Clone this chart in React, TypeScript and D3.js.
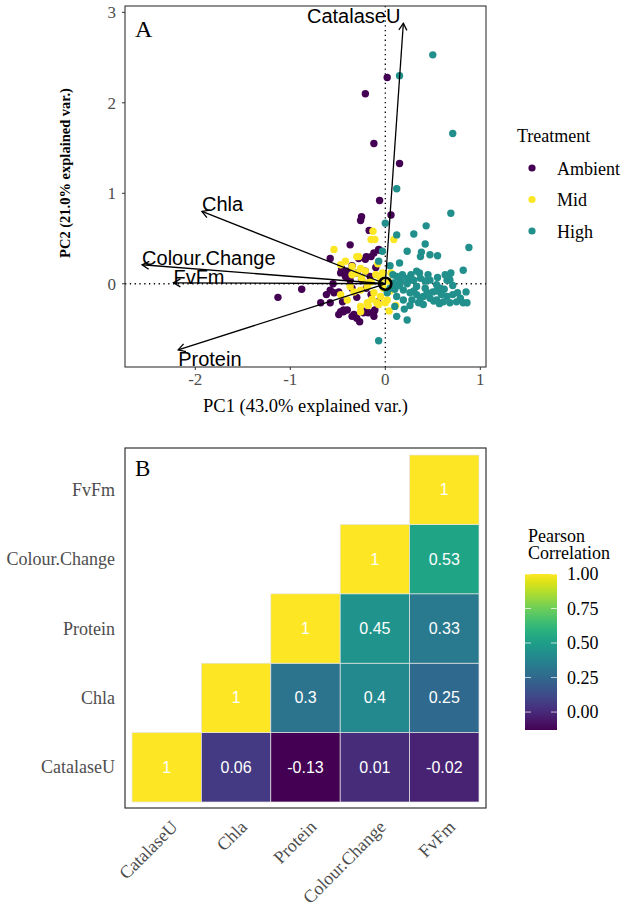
import React from "react";
import * as d3 from "d3";

// ---------- Panel A data (PCA biplot) ----------
const ambientPts: [number, number][] = [
  [-0.21, 2.10], [0.02, 2.28], [-0.12, 1.55], [0.15, 1.33], [-0.06, 0.92], [0.06, 0.76],
  [-0.25, 0.74], [-0.26, 0.70], [-0.17, 0.59], [-0.37, 0.43], [-0.06, 0.37], [-0.12, 0.34],
  [-0.07, 0.38], [-0.58, 0.28], [-0.20, 0.30], [-0.15, 0.30], [-0.28, 0.28], [-0.21, 0.27],
  [-0.46, 0.17], [-0.40, 0.14], [-0.47, 0.12], [-0.42, 0.08], [-0.30, 0.12], [-0.21, 0.14],
  [-0.16, 0.08], [-0.37, 0.04], [-0.88, -0.06], [-1.13, -0.15], [-0.58, -0.07], [-0.54, -0.10],
  [-0.49, -0.09], [-0.68, -0.21], [-0.58, -0.21], [-0.44, -0.29], [-0.49, -0.34], [-0.35, -0.36],
  [-0.30, -0.38], [-0.25, -0.29], [-0.18, -0.32], [-0.12, -0.31], [-0.11, -0.29], [-0.19, -0.31],
  [-0.40, -0.29], [-0.33, -0.34], [-0.23, -0.32], [-0.12, -0.36], [-0.47, -0.31], [-0.35, 0.20],
  [-0.25, 0.05], [-0.10, 0.18], [-0.30, -0.15], [-0.20, -0.05], [-0.45, -0.20], [-0.08, -0.20],
  [-0.55, 0.00], [-0.62, -0.12], [-0.35, -0.05], [-0.27, -0.42], [-0.15, -0.12], [-0.44, -0.31],
];
const midPts: [number, number][] = [
  [-0.13, 0.58], [-0.15, 0.49], [-0.11, 0.49], [0.09, 0.49], [-0.54, 0.38], [-0.28, 0.30],
  [-0.47, 0.21], [-0.35, 0.19], [-0.26, 0.17], [-0.21, 0.14], [-0.35, 0.10], [-0.25, 0.06],
  [-0.19, 0.01], [-0.47, -0.12], [-0.40, -0.18], [-0.37, -0.03], [-0.26, -0.07], [-0.19, -0.03],
  [-0.33, -0.09], [-0.26, -0.31], [-0.19, -0.21], [-0.09, -0.21], [-0.05, -0.14], [0.02, -0.18],
  [-0.07, -0.23], [0.00, -0.21], [0.11, -0.24], [-0.26, -0.25], [-0.18, -0.24], [-0.05, 0.05],
  [0.03, 0.03], [-0.10, 0.10], [0.05, -0.08], [-0.02, -0.05], [-0.12, -0.10], [-0.08, 0.22],
  [0.06, 0.12], [-0.15, 0.02], [-0.30, 0.12], [-0.42, 0.25], [0.08, -0.02], [-0.30, 0.30],
  [-0.14, -0.17], [0.04, -0.30], [-0.03, 0.12],
];
const highPts: [number, number][] = [
  [0.50, 2.53], [0.15, 2.30], [0.71, 1.66], [0.12, 1.05], [0.69, 0.78], [0.00, 0.67],
  [0.43, 0.64], [0.12, 0.54], [0.30, 0.55], [0.42, 0.44], [0.88, 0.40], [0.23, 0.36],
  [0.38, 0.35], [0.37, 0.30], [0.47, 0.32], [0.55, 0.31], [0.15, 0.23], [0.82, 0.15],
  [0.67, 0.06], [0.68, 0.04], [0.85, -0.09], [0.86, -0.21], [0.20, -0.28], [0.12, -0.36],
  [0.23, -0.40], [-0.07, -0.63], [-0.03, 0.36], [-0.07, 0.25], [0.12, 0.08], [0.18, 0.10],
  [0.23, 0.06], [0.30, 0.04], [0.37, 0.06], [0.42, 0.03], [0.47, 0.04], [0.54, -0.01],
  [0.65, 0.04], [0.58, -0.05], [0.19, -0.07], [0.26, -0.10], [0.33, -0.12], [0.40, -0.14],
  [0.47, -0.16], [0.54, -0.18], [0.61, -0.20], [0.68, -0.21], [0.75, -0.20], [0.82, -0.21],
  [0.12, -0.14], [0.19, -0.18], [0.28, -0.18], [0.09, 0.01], [0.05, -0.05], [0.23, 0.00],
  [0.33, -0.03], [0.42, -0.05], [0.50, -0.09], [0.71, -0.12], [0.65, -0.14], [0.35, -0.21],
  [0.40, -0.23], [0.26, -0.24], [0.76, -0.10], [0.57, -0.22], [0.51, -0.19], [0.10, -0.06],
  [0.16, 0.03], [0.27, 0.10], [0.33, 0.14], [0.36, 0.12], [0.55, 0.07], [0.63, 0.10],
  [0.54, -0.08], [0.59, -0.12], [0.79, -0.16], [0.27, 0.04], [0.08, 0.10], [0.05, 0.20],
  [0.02, -0.10], [0.10, -0.25], [0.44, -0.10], [0.37, -0.16], [0.30, -0.08], [0.62, -0.06],
  [0.71, -0.02], [0.45, 0.10], [0.15, -0.02], [0.69, 0.12],
];
const treatments = ["Ambient", "Mid", "High"];
const treatmentColors = ["#440154", "#FDE725", "#21908C"];

const loadingNames = ["CatalaseU", "Chla", "Colour.Change", "FvFm", "Protein"];
const loadingX = [0.19, -1.93, -2.56, -2.23, -2.18];
const loadingY = [2.88, 0.80, 0.21, 0.01, -0.73];

const pcaXTicks = [-2, -1, 0, 1];
const pcaYTicks = [0, 1, 2, 3];

// ---------- Panel B data (correlation matrix) ----------
const corrVars = ["CatalaseU", "Chla", "Protein", "Colour.Change", "FvFm"];
const corrMatrix = [
  [1, 0.06, -0.13, 0.01, -0.02],
  [0.06, 1, 0.3, 0.4, 0.25],
  [-0.13, 0.3, 1, 0.45, 0.33],
  [0.01, 0.4, 0.45, 1, 0.53],
  [-0.02, 0.25, 0.33, 0.53, 1],
];
const corrBreaks = [0, 0.25, 0.5, 0.75, 1];

const SERIF = "'Liberation Serif', 'Times New Roman', serif";
const SANS = "'Liberation Sans', Arial, sans-serif";

export default function App() {
  // Panel A geometry
  const aL = 125, aR = 486, aT = 6, aB = 367;
  const x = d3.scaleLinear().domain([-2.74, 1.06]).range([aL, aR]);
  const y = d3.scaleLinear().domain([-0.92, 3.07]).range([aB, aT]);
  const groups = [ambientPts, midPts, highPts];

  const labelAdjust: Record<string, { anchor: string; dx: number; dy: number }> = {
    CatalaseU: { anchor: "end", dx: -3, dy: 0 },
    Chla: { anchor: "start", dx: 0, dy: 0 },
    "Colour.Change": { anchor: "start", dx: 0, dy: 0 },
    FvFm: { anchor: "start", dx: 0, dy: 1 },
    Protein: { anchor: "start", dx: 0, dy: 16 },
  };

  const arrowHead = (x0: number, y0: number, x1: number, y1: number) => {
    const ang = Math.atan2(y1 - y0, x1 - x0);
    const len = 8;
    const a1 = ang + Math.PI - Math.PI / 6;
    const a2 = ang + Math.PI + Math.PI / 6;
    return `M${x1 + len * Math.cos(a1)},${y1 + len * Math.sin(a1)}L${x1},${y1}L${x1 + len * Math.cos(a2)},${y1 + len * Math.sin(a2)}`;
  };

  // Panel B geometry
  const bL = 125, bR = 486, bT = 448, bB = 808;
  const bx = d3.scaleBand().domain(corrVars).range([132, 479]);
  const by = d3.scaleBand().domain(corrVars).range([802, 455]);
  const color = d3.scaleSequential(d3.interpolateViridis).domain([-0.13, 1]);
  const cells: { i: number; j: number; v: number }[] = [];
  corrVars.forEach((_, i) => {
    corrVars.forEach((__, j) => {
      if (j >= i) cells.push({ i, j, v: corrMatrix[i][j] });
    });
  });

  // colourbar
  const cbX = 525, cbW = 32;
  const cbY = d3.scaleLinear().domain([-0.13, 1]).range([730, 574]);
  const stops = d3.range(0, 1.0001, 0.05);

  return (
    <svg width={624} height={910} style={{ position: "absolute", left: 0, top: 0, background: "#fff" }}>
      <defs>
        <linearGradient id="cbgrad" x1="0" y1="1" x2="0" y2="0">
          {stops.map((t) => (
            <stop key={t} offset={`${t * 100}%`} stopColor={d3.interpolateViridis(t)} />
          ))}
        </linearGradient>
        <clipPath id="clipA">
          <rect x={aL} y={aT} width={aR - aL} height={aB - aT} />
        </clipPath>
      </defs>

      {/* ---------------- Panel A ---------------- */}
      <g clipPath="url(#clipA)">
        <line x1={x(0)} x2={x(0)} y1={aT} y2={aB} stroke="#000" strokeWidth={1.3} strokeDasharray="1.3,3.5" />
        <line x1={aL} x2={aR} y1={y(0)} y2={y(0)} stroke="#000" strokeWidth={1.3} strokeDasharray="1.3,3.5" />
        {groups.map((pts, gi) =>
          pts.map((p, k) => (
            <circle key={`${gi}-${k}`} cx={x(p[0])} cy={y(p[1])} r={3.7} fill={treatmentColors[gi]} />
          ))
        )}
        {loadingNames.map((n, i) => (
          <g key={n}>
            <line x1={x(0)} y1={y(0)} x2={x(loadingX[i])} y2={y(loadingY[i])} stroke="#000" strokeWidth={1.3} />
            <path d={arrowHead(x(0), y(0), x(loadingX[i]), y(loadingY[i]))} fill="none" stroke="#000" strokeWidth={1.3} />
          </g>
        ))}
        <circle cx={x(0)} cy={y(0)} r={6} fill="none" stroke="#000" strokeWidth={2.6} />
        {loadingNames.map((n, i) => (
          <text
            key={n}
            x={x(loadingX[i]) + labelAdjust[n].dx}
            y={y(loadingY[i]) + labelAdjust[n].dy}
            textAnchor={labelAdjust[n].anchor}
            fontFamily={SANS}
            fontSize={20}
            fill="#000"
          >
            {n}
          </text>
        ))}
      </g>
      <rect x={aL} y={aT} width={aR - aL} height={aB - aT} fill="none" stroke="#333" strokeWidth={1.1} />
      {pcaXTicks.map((t) => (
        <g key={`xt${t}`}>
          <line x1={x(t)} x2={x(t)} y1={aB} y2={aB + 3} stroke="#333" strokeWidth={1} />
          <text x={x(t)} y={385} textAnchor="middle" fontFamily={SERIF} fontSize={17} fill="#4d4d4d">
            {t}
          </text>
        </g>
      ))}
      {pcaYTicks.map((t) => (
        <g key={`yt${t}`}>
          <line x1={aL - 3} x2={aL} y1={y(t)} y2={y(t)} stroke="#333" strokeWidth={1} />
          <text x={116} y={y(t) + 6} textAnchor="end" fontFamily={SERIF} fontSize={17} fill="#4d4d4d">
            {t}
          </text>
        </g>
      ))}
      <text x={135} y={37} fontFamily={SERIF} fontSize={24} fill="#000">A</text>
      <text x={305.5} y={412} textAnchor="middle" fontFamily={SERIF} fontSize={18.5} fill="#000">
        PC1 (43.0% explained var.)
      </text>
      <text
        transform={`translate(70,173) rotate(-90)`}
        textAnchor="middle"
        fontFamily={SERIF}
        fontSize={14.5}
        fontWeight="bold"
        fill="#000"
      >
        PC2 (21.0% explained var.)
      </text>

      {/* legend A */}
      <text x={517} y={142} fontFamily={SERIF} fontSize={18} fill="#000">Treatment</text>
      {treatments.map((t, i) => (
        <g key={t}>
          <circle cx={532} cy={168 + i * 31.5} r={3.6} fill={treatmentColors[i]} />
          <text x={557} y={168 + i * 31.5 + 6.5} fontFamily={SERIF} fontSize={18} fill="#000">
            {t}
          </text>
        </g>
      ))}

      {/* ---------------- Panel B ---------------- */}
      {cells.map((c) => (
        <g key={`${c.i}-${c.j}`}>
          <rect
            x={bx(corrVars[c.j])!}
            y={by(corrVars[c.i])!}
            width={bx.bandwidth()}
            height={by.bandwidth()}
            fill={color(c.v)}
            stroke="#e4e4e4"
            strokeWidth={0.7}
          />
          <text
            x={bx(corrVars[c.j])! + bx.bandwidth() / 2}
            y={by(corrVars[c.i])! + by.bandwidth() / 2 + 5.5}
            textAnchor="middle"
            fontFamily={SANS}
            fontSize={16}
            fill="#fff"
          >
            {String(c.v)}
          </text>
        </g>
      ))}
      <rect x={bL} y={bT} width={bR - bL} height={bB - bT} fill="none" stroke="#333" strokeWidth={1.2} />
      <text x={135} y={476} fontFamily={SERIF} fontSize={23} fill="#000">B</text>
      {corrVars.map((v) => (
        <text
          key={`by${v}`}
          x={115}
          y={by(v)! + by.bandwidth() / 2 + 6}
          textAnchor="end"
          fontFamily={SERIF}
          fontSize={18}
          fill="#4d4d4d"
        >
          {v}
        </text>
      ))}
      {corrVars.map((v) => {
        const ax = bx(v)! + bx.bandwidth() / 2 + 12;
        const ay = 828;
        return (
          <text
            key={`bx${v}`}
            x={ax}
            y={ay}
            transform={`rotate(-45 ${ax} ${ay})`}
            textAnchor="end"
            fontFamily={SERIF}
            fontSize={18}
            fill="#4d4d4d"
          >
            {v}
          </text>
        );
      })}

      {/* colourbar */}
      <text x={528} y={542} fontFamily={SERIF} fontSize={18} fill="#000">Pearson</text>
      <text x={528} y={559} fontFamily={SERIF} fontSize={18} fill="#000">Correlation</text>
      <rect x={cbX} y={cbY(1)} width={cbW} height={cbY(-0.13) - cbY(1)} fill="url(#cbgrad)" />
      {corrBreaks.map((b) => (
        <g key={`cb${b}`}>
          <line x1={cbX} x2={cbX + 6} y1={cbY(b)} y2={cbY(b)} stroke="#fff" strokeOpacity={0.7} strokeWidth={1} />
          <line x1={cbX + cbW - 6} x2={cbX + cbW} y1={cbY(b)} y2={cbY(b)} stroke="#fff" strokeOpacity={0.7} strokeWidth={1} />
          <text x={567} y={cbY(b) + 6} fontFamily={SERIF} fontSize={18} fill="#000">
            {b.toFixed(2)}
          </text>
        </g>
      ))}
    </svg>
  );
}
